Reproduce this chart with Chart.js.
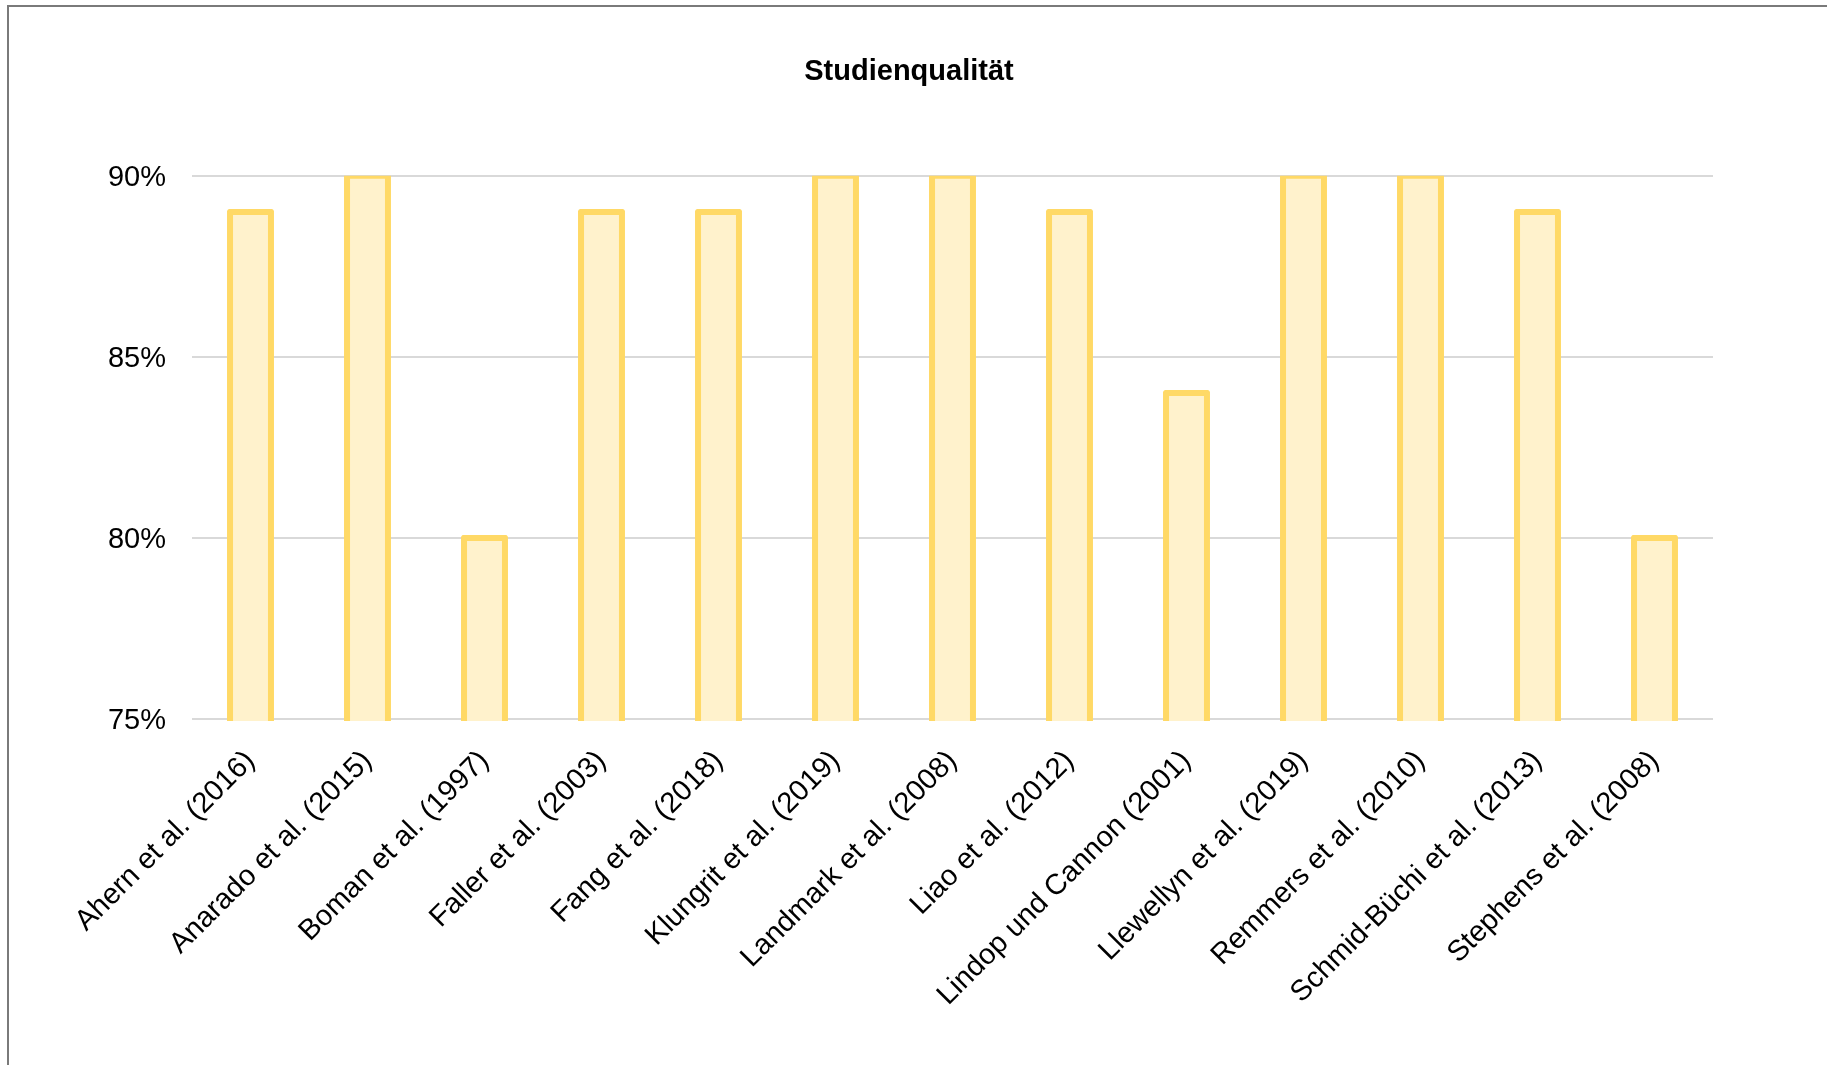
<!DOCTYPE html>
<html>
<head>
<meta charset="utf-8">
<title>Studienqualität</title>
<script src="https://cdn.jsdelivr.net/npm/chart.js@4/dist/chart.umd.min.js"></script>
<style>
    html, body { margin: 0; padding: 0; background: #fff; overflow: hidden; }
    #frame {
        position: absolute; left: 7px; top: 5px;
        width: 1900px; height: 1200px;
        border-left: 2px solid #7a7a7a; border-top: 2px solid #7a7a7a;
    }
    #chart { position: absolute; left: 0; top: 0; }
</style>
</head>
<body>
<div id="frame"></div>
<canvas id="chart" width="1827" height="1065"></canvas>
<script>
// Daten
const studien = [
    'Ahern et al. (2016)', 'Anarado et al. (2015)', 'Boman et al. (1997)',
    'Faller et al. (2003)', 'Fang et al. (2018)', 'Klungrit et al. (2019)',
    'Landmark et al. (2008)', 'Liao et al. (2012)', 'Lindop und Cannon (2001)',
    'Llewellyn et al. (2019)', 'Remmers et al. (2010)', 'Schmid-Büchi et al. (2013)',
    'Stephens et al. (2008)'
];
const qualitaet = [89, 90, 80, 89, 89, 90, 90, 89, 84, 90, 90, 89, 80];
const yTicks = [75, 80, 85, 90];

const fontFamily = '"Liberation Sans", Arial, sans-serif';

new Chart(document.getElementById('chart'), {
    type: 'bar',
    data: {
        labels: studien,
        datasets: [{
            label: 'Studienqualität',
            data: qualitaet,
            backgroundColor: '#FFF2CC',
            borderColor: '#FFD966',
            borderWidth: 6,
            borderSkipped: false,
            borderRadius: 2,
            inflateAmount: 3,
            barPercentage: 0.35,
            categoryPercentage: 1,
            clip: { left: 10, right: 10, top: 0, bottom: 2 }
        }]
    },
    options: {
        responsive: false,
        animation: false,
        // linkes Padding verschiebt den Titel nach rechts (Mitte ~909px)
        layout: { padding: { left: 105, right: 114, top: 0, bottom: 0 } },
        plugins: {
            legend: { display: false },
            tooltip: { enabled: false },
            title: {
                display: true,
                text: 'Studienqualität',
                color: '#000',
                font: { family: fontFamily, size: 29, weight: 'bold' },
                padding: { top: 55, bottom: 86 }
            }
        },
        scales: {
            x: {
                grid: { display: false },
                border: { display: false },
                ticks: {
                    autoSkip: false,
                    minRotation: 45,
                    maxRotation: 45,
                    padding: 17,
                    color: '#000',
                    font: { family: fontFamily, size: 29 }
                },
                afterFit: s => { s.height = 346; }
            },
            y: {
                min: yTicks[0],
                max: yTicks[yTicks.length - 1],
                afterBuildTicks: s => { s.ticks = yTicks.map(v => ({ value: v })); },
                grid: { color: '#D9D9D9', lineWidth: 2, drawTicks: false },
                border: { display: false },
                ticks: {
                    padding: 26,
                    labelOffset: 2,
                    color: '#000',
                    font: { family: fontFamily, size: 29 },
                    callback: v => v + '%'
                },
                afterFit: s => { s.width = 87; }
            }
        }
    }
});
</script>
</body>
</html>
